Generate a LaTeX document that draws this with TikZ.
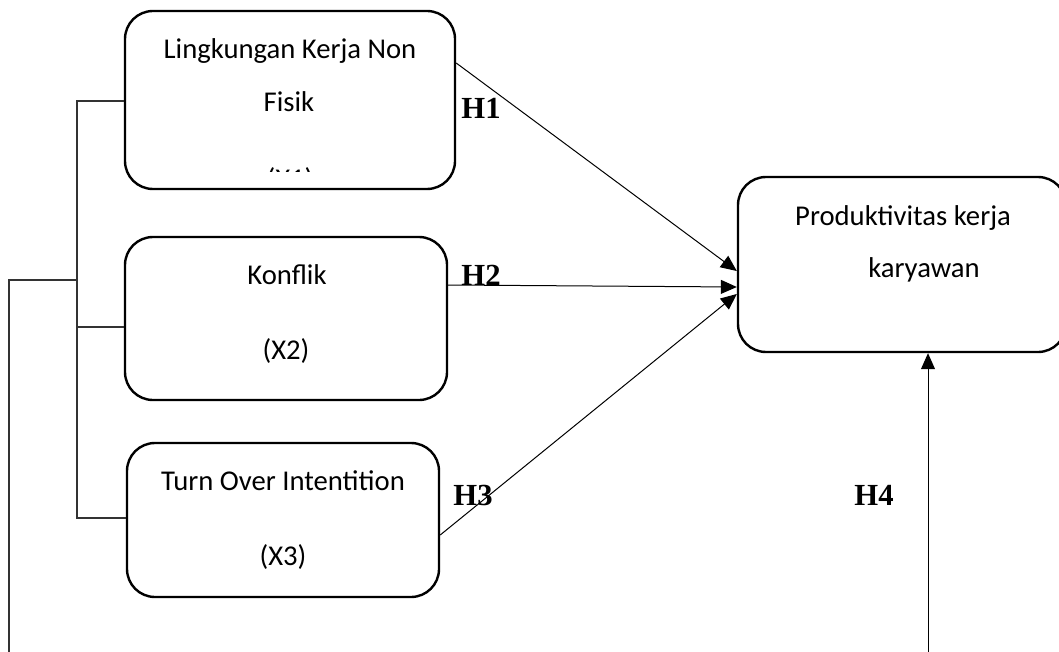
\documentclass[tikz,border=0pt]{standalone}
\usepackage{fontspec}
\newfontfamily\boxfont{Carlito}
\newfontfamily\hfont{Liberation Serif}
\usetikzlibrary{arrows.meta}
\begin{document}
\begin{tikzpicture}[x=0.75pt,y=-0.75pt,
  vbox/.style={draw,line width=1.8pt,rounded corners=21pt,inner sep=0pt},
  btext/.style={anchor=base,font=\boxfont\fontsize{21.5pt}{26pt}\selectfont,inner sep=0pt},
  hlab/.style={font=\hfont\bfseries\fontsize{23pt}{27pt}\selectfont,inner sep=0pt},
  arr/.style={line width=0.75pt,-{Triangle[length=12pt,width=10.5pt]}},
  link/.style={line width=0.9pt,draw=black!80}]
\useasboundingbox (0,0) rectangle (1059,652);
% boxes
\node[vbox,minimum width=247.5pt,minimum height=133.5pt] (b1) at (290,100) {};
\node[vbox,minimum width=241.5pt,minimum height=122.25pt] (b2) at (286,318.5) {};
\node[vbox,minimum width=234pt,minimum height=115.5pt] (b3) at (283,520) {};
\node[vbox,minimum width=246pt,minimum height=131.25pt] (b4) at (902,264.5) {};
% texts
\node[btext] (t1a) at (290,59) {Lingkungan Kerja Non};
\node[btext] (t1b) at (289,112) {Fisik};
\begin{scope}
\clip (125,11) rectangle (455,172);
\node[btext] (t1c) at (290,189) {(X1)};
\end{scope}
\node[btext] (t2a) at (287,284) {Konflik};
\node[btext] (t2b) at (286,359) {(X2)};
\node[btext] (t3a) at (283,490) {Turn Over Intentition};
\node[btext] (t3b) at (283,565) {(X3)};
\node[btext] (t4a) at (903,225) {Produktivitas kerja};
\node[btext] (t4b) at (924,277) {karyawan};
% H labels
\node[hlab] (h1) at (481,108) {H1};
\node[hlab] (h2) at (481,275) {H2};
\node[hlab] (h3) at (473,495) {H3};
\node[hlab] (h4) at (874,495) {H4};
% arrows
\draw[arr] (b1.east |- 0,63) -- (b4.west |- 0,271);
\draw[arr] (b2.east |- 0,285) -- (b4.west |- 0,287);
\draw[arr] (b3.east |- 0,535) -- (b4.west |- 0,294);
\coordinate (h4s) at (928,652);
\draw[arr] (h4s) -- (b4.south -| h4s);
% bracket
\coordinate (bt) at (77,101);
\coordinate (bb) at (77,518);
\coordinate (bm) at (77,280);
\coordinate (ob) at (9,652);
\draw[link] (b1.west |- bt) -- (bt) -- (bb) -- (b3.west |- bb);
\draw[link] (bb |- 0,327) -- (b2.west |- 0,327);
\draw[link] (bm) -- (ob |- bm) -- (ob);
\end{tikzpicture}
\end{document}
